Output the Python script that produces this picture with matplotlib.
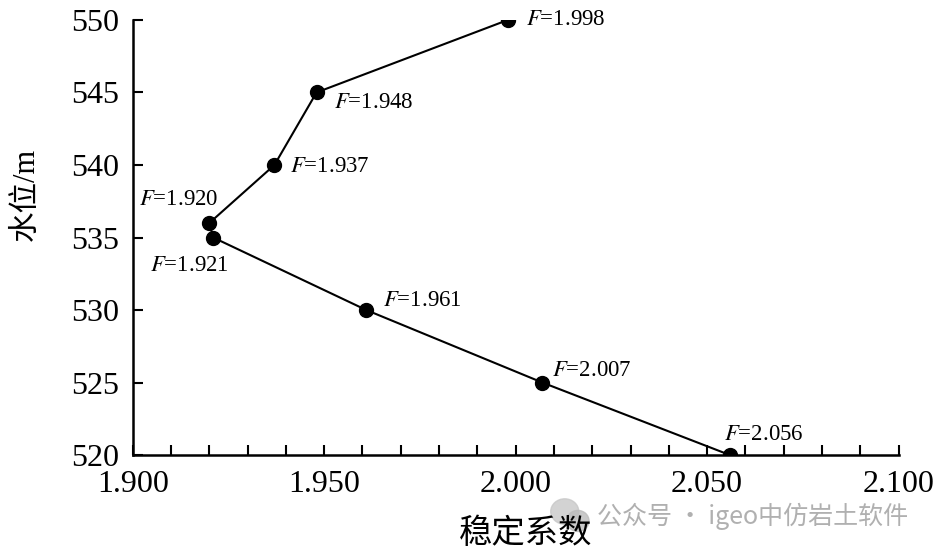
import matplotlib
matplotlib.use('Agg')
import matplotlib.pyplot as plt
from matplotlib.ticker import MultipleLocator, FormatStrFormatter
from matplotlib.patches import Ellipse

plt.rcParams['font.family'] = ['Liberation Serif', 'Noto Sans CJK SC']
plt.rcParams['mathtext.fontset'] = 'stix'

# 稳定系数 vs 水位
safety_factor = [1.998, 1.948, 1.937, 1.920, 1.921, 1.961, 2.007, 2.056]
water_level = [550, 545, 540, 536, 535, 530, 525, 520]
labels = ['1.998', '1.948', '1.937', '1.920', '1.921', '1.961', '2.007', '2.056']
# 标注偏移 (像素)
offsets = [(18, 0), (17, -10), (16, -2), (-70, 24), (-63, -28), (17, 10), (10, 12), (-6, 21)]

fig = plt.figure(figsize=(9.35, 5.53), dpi=100)
ax = fig.add_axes([0.142, 0.177, 0.819, 0.787])

ax.plot(safety_factor, water_level, color='black', lw=1.5, marker='o', ms=10, zorder=3)

for x, y, lab, off in zip(safety_factor, water_level, labels, offsets):
    ax.annotate(r'$F$=' + lab, (x, y), xytext=off, textcoords='offset pixels',
                fontsize=16.5, va='center', ha='left')

ax.set_xlim(1.9, 2.1)
ax.set_ylim(520, 550)
ax.xaxis.set_major_locator(MultipleLocator(0.05))
ax.xaxis.set_minor_locator(MultipleLocator(0.01))
ax.yaxis.set_major_locator(MultipleLocator(5))
ax.xaxis.set_major_formatter(FormatStrFormatter('%.3f'))

ax.tick_params(axis='both', which='both', direction='in', labelsize=23, width=1.5)
ax.tick_params(axis='both', which='major', length=7)
ax.tick_params(axis='x', which='minor', length=7)
ax.tick_params(axis='y', pad=10)
ax.tick_params(axis='x', pad=11)

for s in ['top', 'right']:
    ax.spines[s].set_visible(False)
for s in ['left', 'bottom']:
    ax.spines[s].set_linewidth(1.8)

ax.set_xlabel('稳定系数', fontsize=24)
ax.xaxis.set_label_coords(0.513, -0.145)
ax.set_ylabel('水位/m', fontsize=22)
ax.yaxis.set_label_coords(-0.12, 0.6)

# 水印
fig.patches.append(Ellipse((0.604, 0.075), 0.03, 0.046, transform=fig.transFigure,
                           color='#c8c8c8', alpha=0.8, zorder=-2))
fig.patches.append(Ellipse((0.618, 0.058), 0.024, 0.038, transform=fig.transFigure,
                           color='#bcbcbc', alpha=0.8, zorder=-1))
fig.text(0.638, 0.067, '公众号 · igeo中仿岩土软件', fontsize=18, color='#b0b0b0',
         family=['Noto Sans CJK SC'], va='center')

fig.savefig('out.png', dpi=100)
